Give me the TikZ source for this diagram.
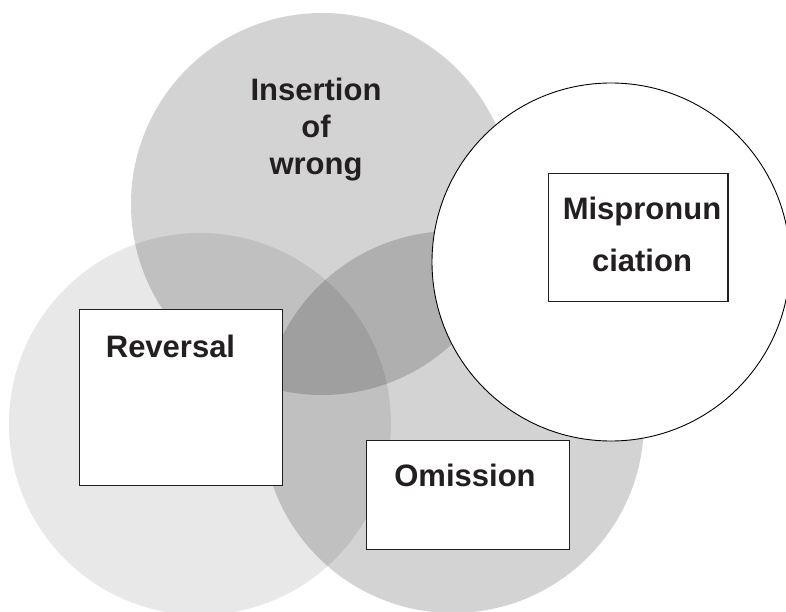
\documentclass[tikz,border=0pt]{standalone}
\usepackage{fontspec}
\setmainfont{Liberation Sans}
\usepackage{tikz}

\definecolor{inkblack}{HTML}{231F20}

\begin{document}
\begin{tikzpicture}[x=1pt, y=-1pt]
  \tikzstyle{blob} = [circle, fill=black, fill opacity=0.173, inner sep=0pt, minimum size=382pt]
  \tikzstyle{lightblob} = [blob, fill opacity=0.09]
  \tikzstyle{ring} = [circle, draw=black, fill=white, line width=0.9pt, inner sep=0pt, minimum size=358pt]
  \tikzstyle{errbox} = [rectangle, draw=inkblack, line width=1.3pt, fill=white, inner sep=0pt, anchor=north west]
  \tikzstyle{errtext} = [inner sep=0pt, text=inkblack, font=\bfseries\fontsize{31}{37}\selectfont]

  \useasboundingbox (0,0) rectangle (786,612);
  \clip (0,0) rectangle (786,612);

  % the three overlapping sets
  \node[blob] (insset) at (322,204) {};
  \node[lightblob] (revset) at (200,424) {};
  \node[blob] (omitset) at (453,422) {};
  \node[ring] (misset) at (611,262) {};

  % boxes
  \node[errbox, minimum width=203pt, minimum height=176pt] (revbox) at (78.5,309) {};
  \node[errbox, minimum width=203pt, minimum height=109pt] (omitbox) at (366,440) {};
  \node[errbox, minimum width=179.6pt, minimum height=127.7pt] (misbox) at (547.7,173) {};

  % texts
  \node[errtext, align=center] (instxt) at (316,129.9) {Insertion\\of\\wrong};
  \node[errtext, anchor=base] (revtxt) at (170.5,357.5) {Reversal};
  \node[errtext, anchor=base] (omittxt) at (465,486) {Omission};
  \node[errtext, align=center, font=\bfseries\fontsize{31}{51.7}\selectfont] (mistxt) at (642,234.7) {Mispronun\\ciation};
\end{tikzpicture}
\end{document}
